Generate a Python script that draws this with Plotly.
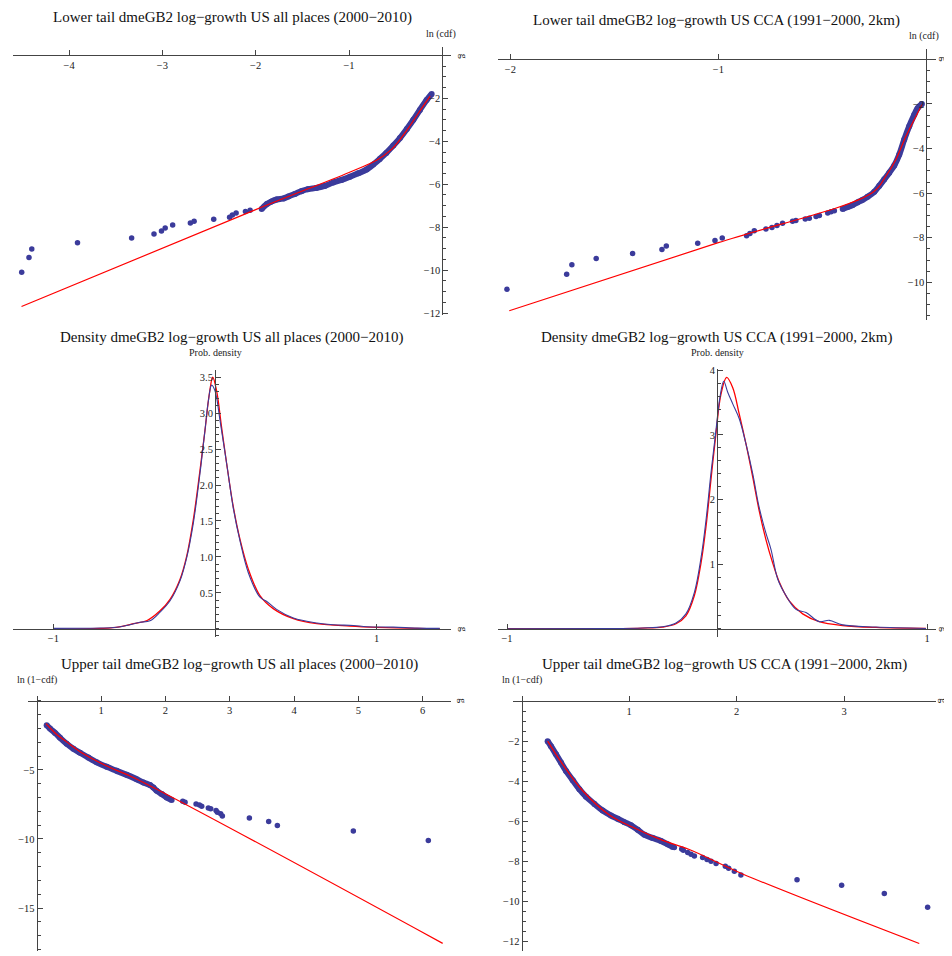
import plotly.graph_objects as go

# page is 952x956; the HTML body adds an 8px margin, so the figure is 8px smaller
OFF = 8
W, H = 952 - OFF, 956 - OFF

# ---------------- data ----------------
# Panel 1: lower tail, all places
p1_sparse_g = [-4.508, -4.43, -4.40, -3.91, -3.33, -3.09, -3.01, -2.97, -2.89, -2.70, -2.66, -2.45, -2.28, -2.25, -2.21, -2.11, -2.06]
p1_sparse_y = [-10.1, -9.41, -9.01, -8.72, -8.5, -8.32, -8.17, -8.03, -7.9, -7.8, -7.72, -7.63, -7.54, -7.43, -7.34, -7.27, -7.21]
p1_dense_g = [-1.936, -1.88, -1.83, -1.775, -1.70, -1.65, -1.58, -1.51, -1.44, -1.35, -1.26, -1.17, -1.08, -0.99, -0.9, -0.81, -0.74, -0.67, -0.60, -0.525, -0.454, -0.38, -0.31, -0.24, -0.168, -0.114]
p1_dense_y = [-7.15, -6.92, -6.8, -6.71, -6.66, -6.57, -6.45, -6.32, -6.23, -6.17, -6.08, -5.92, -5.8, -5.65, -5.49, -5.31, -5.08, -4.82, -4.54, -4.2, -3.85, -3.43, -3.0, -2.54, -2.08, -1.8]
p1_fit_g = [-4.51, -2.0, -1.0, -0.7, -0.55, -0.45, -0.35, -0.25, -0.13]
p1_fit_y = [-11.69, -7.18, -5.45, -4.87, -4.4, -3.9, -3.3, -2.65, -1.9]

# Panel 2: lower tail, CCA
p2_sparse_g = [-2.016, -1.729, -1.704, -1.587, -1.412, -1.271, -1.25, -1.099, -1.016, -0.981, -0.864, -0.848, -0.827, -0.771, -0.742, -0.718, -0.691, -0.643, -0.627, -0.582, -0.5625, -0.53, -0.514, -0.474, -0.458, -0.442]
p2_sparse_y = [-10.31, -9.63, -9.21, -8.93, -8.71, -8.52, -8.37, -8.24, -8.12, -8.01, -7.91, -7.81, -7.69, -7.61, -7.54, -7.45, -7.35, -7.26, -7.23, -7.16, -7.13, -7.05, -7.0, -6.89, -6.83, -6.79]
p2_dense_g = [-0.402, -0.378, -0.354, -0.33, -0.306, -0.282, -0.25, -0.226, -0.202, -0.178, -0.154, -0.13, -0.106, -0.082, -0.058, -0.042, -0.021]
p2_dense_y = [-6.71, -6.62, -6.53, -6.41, -6.3, -6.16, -5.94, -5.67, -5.38, -5.08, -4.76, -4.27, -3.6, -3.0, -2.49, -2.19, -2.0]
p2_fit_g = [-2.005, -1.0, -0.258, -0.194, -0.146, -0.098, -0.05, -0.021]
p2_fit_y = [-11.27, -8.22, -5.97, -5.23, -4.49, -3.45, -2.56, -2.04]

# Panel 3: density, all places
p3_fit_g = [-1.0, -0.61, -0.505, -0.42, -0.34, -0.278, -0.216, -0.175, -0.134, -0.093, -0.062, -0.035, -0.014, 0.01, 0.041, 0.072, 0.113, 0.155, 0.206, 0.278, 0.36, 0.485, 0.63, 0.835, 1.0, 1.25, 1.39]
p3_fit_y = [0.0, 0.02, 0.07, 0.115, 0.25, 0.41, 0.69, 1.01, 1.52, 2.2, 2.76, 3.27, 3.5, 3.31, 2.8, 2.3, 1.7, 1.24, 0.83, 0.46, 0.28, 0.14, 0.07, 0.037, 0.02, 0.005, 0.002]
p3_emp_g = [-1.0, -0.71, -0.61, -0.526, -0.464, -0.402, -0.34, -0.278, -0.216, -0.175, -0.134, -0.093, -0.062, -0.041, -0.021, 0.0, 0.031, 0.072, 0.113, 0.155, 0.206, 0.278, 0.32, 0.381, 0.485, 0.63, 0.732, 0.856, 0.938, 1.103, 1.25, 1.39]
p3_emp_y = [0.005, 0.01, 0.02, 0.055, 0.09, 0.11, 0.23, 0.39, 0.67, 0.99, 1.47, 2.16, 2.76, 3.17, 3.39, 3.31, 2.9, 2.3, 1.68, 1.22, 0.78, 0.44, 0.38, 0.27, 0.15, 0.08, 0.055, 0.046, 0.028, 0.023, 0.009, 0.005]

# Panel 4: density, CCA
p4_fit_g = [-1.0, -0.513, -0.354, -0.259, -0.195, -0.148, -0.108, -0.076, -0.052, -0.029, -0.005, 0.019, 0.046, 0.075, 0.106, 0.138, 0.17, 0.2, 0.233, 0.265, 0.297, 0.344, 0.408, 0.487, 0.598, 0.757, 0.995]
p4_fit_y = [0.0, 0.002, 0.01, 0.026, 0.077, 0.2, 0.51, 1.02, 1.59, 2.3, 3.02, 3.63, 3.89, 3.73, 3.32, 2.86, 2.35, 1.84, 1.38, 1.02, 0.72, 0.43, 0.23, 0.11, 0.05, 0.02, 0.005]
p4_emp_g = [-1.0, -0.513, -0.354, -0.259, -0.195, -0.148, -0.108, -0.076, -0.052, -0.029, -0.005, 0.014, 0.032, 0.051, 0.075, 0.106, 0.138, 0.17, 0.2, 0.233, 0.257, 0.289, 0.329, 0.376, 0.424, 0.487, 0.535, 0.598, 0.757, 0.995]
p4_emp_y = [0.0, 0.003, 0.012, 0.03, 0.09, 0.23, 0.56, 1.1, 1.69, 2.4, 3.07, 3.58, 3.83, 3.66, 3.48, 3.25, 2.86, 2.4, 1.89, 1.48, 1.23, 0.77, 0.51, 0.3, 0.25, 0.11, 0.13, 0.06, 0.026, 0.005]

# Panel 5: upper tail, all places
p5_dense_g = [0.155, 0.207, 0.285, 0.363, 0.466, 0.57, 0.674, 0.803, 0.933, 1.088, 1.244, 1.399, 1.554, 1.658, 1.762, 1.813, 1.865, 1.943, 2.02, 2.098]
p5_dense_y = [-1.77, -2.01, -2.32, -2.68, -3.11, -3.47, -3.76, -4.11, -4.45, -4.78, -5.07, -5.36, -5.67, -5.91, -6.1, -6.27, -6.51, -6.75, -6.99, -7.18]
p5_sparse_g = [2.27, 2.306, 2.477, 2.53, 2.565, 2.668, 2.705, 2.788, 2.808, 2.86, 2.886, 3.306, 3.606, 3.741, 4.922, 6.088]
p5_sparse_y = [-7.27, -7.34, -7.46, -7.54, -7.63, -7.75, -7.82, -7.94, -8.06, -8.18, -8.33, -8.49, -8.73, -9.02, -9.43, -10.12]
p5_fit_g = [0.145, 0.207, 0.311, 0.466, 0.674, 0.88, 1.14, 1.503, 6.311]
p5_fit_y = [-1.65, -1.96, -2.44, -2.97, -3.68, -4.23, -4.83, -5.55, -17.56]

# Panel 6: upper tail, CCA
p6_dense_g = [0.243, 0.274, 0.321, 0.367, 0.414, 0.476, 0.538, 0.6, 0.678, 0.755, 0.833, 0.895, 0.957, 1.019, 1.081, 1.143, 1.22, 1.298, 1.36, 1.406]
p6_dense_y = [-2.0, -2.25, -2.66, -3.07, -3.49, -3.95, -4.4, -4.78, -5.14, -5.47, -5.72, -5.88, -6.05, -6.21, -6.43, -6.68, -6.84, -6.99, -7.16, -7.29]
p6_sparse_g = [1.422, 1.49, 1.505, 1.546, 1.577, 1.608, 1.685, 1.726, 1.763, 1.81, 1.896, 1.927, 1.98, 2.041, 2.563, 2.978, 3.375, 3.778]
p6_sparse_y = [-7.32, -7.39, -7.45, -7.57, -7.65, -7.74, -7.82, -7.92, -8.0, -8.12, -8.25, -8.36, -8.51, -8.69, -8.93, -9.21, -9.62, -10.31]
p6_fit_g = [0.243, 0.383, 0.569, 0.817, 1.065, 1.313, 1.561, 2.057, 3.7]
p6_fit_y = [-2.0, -3.16, -4.48, -5.69, -6.38, -6.96, -7.42, -8.64, -12.12]

titles = [
    "Lower tail dmeGB2 log\u2212growth US all places (2000\u22122010)",
    "Lower tail dmeGB2 log\u2212growth US CCA (1991\u22122000, 2km)",
    "Density dmeGB2 log\u2212growth US all places (2000\u22122010)",
    "Density dmeGB2 log\u2212growth US CCA (1991\u22122000, 2km)",
    "Upper tail dmeGB2 log\u2212growth US all places (2000\u22122010)",
    "Upper tail dmeGB2 log\u2212growth US CCA (1991\u22122000, 2km)",
]
ylabels = ["ln (cdf)", "ln (cdf)", "Prob. density", "Prob. density", "ln (1\u2212cdf)", "ln (1\u2212cdf)"]

x_ticks = [[-4, -3, -2, -1], [-2, -1], [-1, 1], [-1, 1], [1, 2, 3, 4, 5, 6], [1, 2, 3]]
y_ticks = [[-2, -4, -6, -8, -10, -12], [-2, -4, -6, -8, -10], [0.5, 1.0, 1.5, 2.0, 2.5, 3.0, 3.5],
           [1, 2, 3, 4], [-5, -10, -15], [-2, -4, -6, -8, -10, -12]]
y_tick_text = [None, None, ["0.5", "1.0", "1.5", "2.0", "2.5", "3.0", "3.5"], None, None, None]

# ---------------- layout geometry (reference page pixels) ----------------
geo = [
    dict(zx=442.3, sx=93.3, xr=[-4.6, 0.09], zy=51.7, sy=21.67, yr=[-12.1, 0.4], ydt=0.5),
    dict(zx=926.3, sx=208.0, xr=[-2.06, 0.046], zy=55.7, sy=22.5, yr=[-11.7, 0.45], ydt=0.5),
    dict(zx=215.0, sx=161.7, xr=[-1.25, 1.458], zy=630.0, sy=72.47, yr=[-0.12, 3.6], ydt=0.1),
    dict(zx=717.0, sx=210.0, xr=[-1.044, 1.043], zy=630.0, sy=65.17, yr=[-0.12, 4.02], ydt=0.2),
    dict(zx=36.7, sx=64.33, xr=[-0.13, 6.435], zy=702.7, sy=13.93, yr=[-18.1, 0.35], ydt=1.0),
    dict(zx=521.5, sx=107.5, xr=[-0.082, 3.856], zy=703.0, sy=20.17, yr=[-12.5, 0.25], ydt=0.5),
]
title_pos = [(232, 14), (716, 17), (232, 336), (717, 336), (239, 666), (724, 666)]
ylabel_pos = [(441, 30), (924, 32), (215, 351), (717, 351), (36.7, 682), (521.7, 682)]
g_pos = [(463, 52), (944, 55), (463, 630), (944, 630), (463, 702), (944, 702)]

BLUE = "#3b3b9b"
RED = "#ff0000"
AX = "#444444"
FONT = "Liberation Serif"


def m(v):
    return f"{v:g}".replace("-", "\u2212")


def fx(px):
    return (px - OFF) / W


def fy(py):
    return (H - (py - OFF)) / H


fig = go.Figure()

scatter_panels = {
    0: (p1_sparse_g, p1_sparse_y, p1_dense_g, p1_dense_y, p1_fit_g, p1_fit_y),
    1: (p2_sparse_g, p2_sparse_y, p2_dense_g, p2_dense_y, p2_fit_g, p2_fit_y),
    4: (p5_sparse_g, p5_sparse_y, p5_dense_g, p5_dense_y, p5_fit_g, p5_fit_y),
    5: (p6_sparse_g, p6_sparse_y, p6_dense_g, p6_dense_y, p6_fit_g, p6_fit_y),
}
density_panels = {
    2: (p3_emp_g, p3_emp_y, p3_fit_g, p3_fit_y),
    3: (p4_emp_g, p4_emp_y, p4_fit_g, p4_fit_y),
}

for i in range(6):
    xa = "x" if i == 0 else f"x{i+1}"
    ya = "y" if i == 0 else f"y{i+1}"
    if i in scatter_panels:
        sg, sy_, dg, dy, fg, fy_ = scatter_panels[i]
        fig.add_trace(go.Scatter(x=dg, y=dy, mode="lines+markers", xaxis=xa, yaxis=ya,
                                 line=dict(color=BLUE, width=6, shape="spline"),
                                 marker=dict(color=BLUE, size=6), showlegend=False))
        fig.add_trace(go.Scatter(x=sg, y=sy_, mode="markers", xaxis=xa, yaxis=ya,
                                 marker=dict(color=BLUE, size=5.5), showlegend=False))
        fig.add_trace(go.Scatter(x=fg, y=fy_, mode="lines", xaxis=xa, yaxis=ya,
                                 line=dict(color=RED, width=1.2, shape="spline"), showlegend=False))
    else:
        eg, ey, fg, fy_ = density_panels[i]
        fig.add_trace(go.Scatter(x=fg, y=fy_, mode="lines", xaxis=xa, yaxis=ya,
                                 line=dict(color=RED, width=1.3, shape="spline"), showlegend=False))
        fig.add_trace(go.Scatter(x=eg, y=ey, mode="lines", xaxis=xa, yaxis=ya,
                                 line=dict(color=BLUE, width=1.1, shape="spline"), showlegend=False))

layout = dict(width=W, height=H, margin=dict(l=0, r=0, t=0, b=0),
              plot_bgcolor="white", paper_bgcolor="white", showlegend=False)

annotations = []
for i, gd in enumerate(geo):
    xdom = [fx(gd["zx"] + gd["sx"] * gd["xr"][0]), fx(gd["zx"] + gd["sx"] * gd["xr"][1])]
    ydom = [fy(gd["zy"] - gd["sy"] * gd["yr"][0]), fy(gd["zy"] - gd["sy"] * gd["yr"][1])]
    xdom = [max(0, min(1, v)) for v in xdom]
    ydom = [max(0, min(1, v)) for v in ydom]
    xkey = "xaxis" if i == 0 else f"xaxis{i+1}"
    ykey = "yaxis" if i == 0 else f"yaxis{i+1}"
    ytt = y_tick_text[i] if y_tick_text[i] else [m(v) for v in y_ticks[i]]
    layout[xkey] = dict(domain=xdom, range=gd["xr"], anchor="free",
                        position=fy(gd["zy"]), showgrid=False, zeroline=False,
                        showline=True, linecolor=AX, linewidth=1,
                        tickmode="array", tickvals=x_ticks[i], ticktext=[m(v) for v in x_ticks[i]],
                        ticks="inside", ticklen=5, tickcolor=AX, tickwidth=1,
                        tickfont=dict(family=FONT, size=10.5, color="#222"))
    layout[ykey] = dict(domain=ydom, range=gd["yr"], anchor="free",
                        position=fx(gd["zx"]), showgrid=False, zeroline=False,
                        showline=True, linecolor=AX, linewidth=1,
                        tickmode="array", tickvals=y_ticks[i], ticktext=ytt,
                        ticks="inside", ticklen=5, tickcolor=AX, tickwidth=1,
                        tickfont=dict(family=FONT, size=10.5, color="#222"),
                        minor=dict(ticks="inside", ticklen=3, tickcolor=AX, dtick=gd["ydt"], tick0=0,
                                   showgrid=False))
    tx, ty = title_pos[i]
    annotations.append(dict(text=titles[i], x=fx(tx), y=fy(ty), xref="paper", yref="paper",
                            showarrow=False, xanchor="center", yanchor="middle",
                            font=dict(family=FONT, size=15, color="#111")))
    lx, ly = ylabel_pos[i]
    annotations.append(dict(text=ylabels[i], x=fx(lx), y=fy(ly), xref="paper", yref="paper",
                            showarrow=False, xanchor="center", yanchor="middle",
                            font=dict(family=FONT, size=10, color="#222")))
    gx, gy = g_pos[i]
    annotations.append(dict(text="g", x=fx(gx), y=fy(gy), xref="paper", yref="paper",
                            showarrow=False, xanchor="center", yanchor="middle", textangle=90,
                            font=dict(family=FONT, size=10, color="#222")))

layout["annotations"] = annotations
fig.update_layout(**layout)
fig.write_html("out.html")
